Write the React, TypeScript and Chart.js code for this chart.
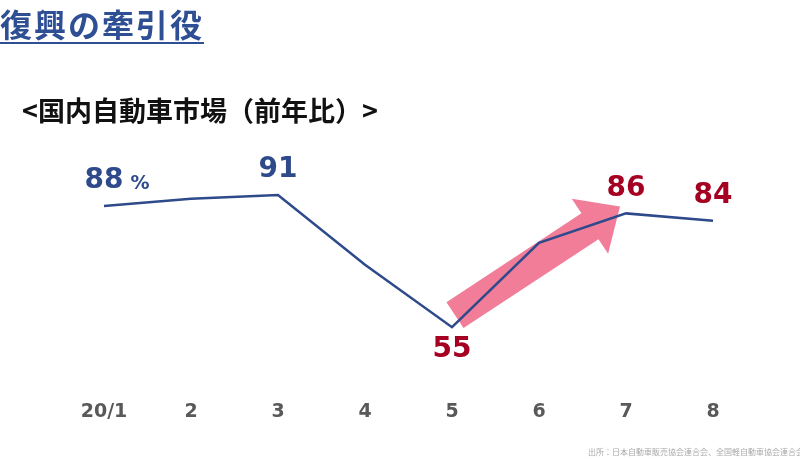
import React, { useEffect, useRef } from 'react';
import { Chart, registerables } from 'chart.js';

Chart.register(...registerables);

// data (year-over-year %, 2020)
const months = ['20/1', '2', '3', '4', '5', '6', '7', '8'];
const marketYoY = [88, 90, 91, 72, 55, 78, 86, 84];
const labelledIdx = [0, 2, 4, 6, 7];
const labelBelow = [4];
const labelColors = ['#2E4A8B', '#2E4A8B', '#2E4A8B', '#2E4A8B', '#A50021', '#A50021', '#A50021', '#A50021'];
const arrowFrom = 4;
const arrowTo = 6;

const blue = '#2E4A8B';
const pink = 'rgba(240, 118, 147, 0.95)';
const numFont = '"DejaVu Sans", "Noto Sans", sans-serif';

const arrowPlugin = {
  id: 'arrow',
  beforeDatasetsDraw(chart: any) {
    const pts = chart.getDatasetMeta(0).data;
    const a = pts[arrowFrom];
    const b = pts[arrowTo];
    const x0 = a.x + 3, y0 = a.y - 12;
    const x1 = b.x - 6, y1 = b.y - 7;
    const dx = x1 - x0, dy = y1 - y0;
    const len = Math.sqrt(dx * dx + dy * dy);
    const ux = dx / len, uy = dy / len;
    const px = -uy, py = ux;
    const shaft = 15.5, head = 33, headLen = 36;
    const bx = x1 - ux * headLen, by = y1 - uy * headLen;
    const ctx = chart.ctx;
    ctx.save();
    ctx.fillStyle = pink;
    ctx.beginPath();
    ctx.moveTo(x0 + px * shaft, y0 + py * shaft);
    ctx.lineTo(bx + px * shaft, by + py * shaft);
    ctx.lineTo(bx + px * head, by + py * head);
    ctx.lineTo(x1, y1);
    ctx.lineTo(bx - px * head, by - py * head);
    ctx.lineTo(bx - px * shaft, by - py * shaft);
    ctx.lineTo(x0 - px * shaft, y0 - py * shaft);
    ctx.closePath();
    ctx.fill();
    ctx.restore();
  },
};

const valueLabelPlugin = {
  id: 'valueLabels',
  afterDatasetsDraw(chart: any) {
    const pts = chart.getDatasetMeta(0).data;
    const ctx = chart.ctx;
    ctx.save();
    ctx.textAlign = 'center';
    ctx.textBaseline = 'middle';
    labelledIdx.forEach((i) => {
      const p = pts[i];
      const below = labelBelow.includes(i);
      const y = below ? p.y + 23 : p.y - 25;
      ctx.fillStyle = labelColors[i];
      ctx.font = `bold 28px ${numFont}`;
      const txt = String(marketYoY[i]);
      ctx.fillText(txt, p.x, y);
      if (i === 0) {
        const w = ctx.measureText(txt).width;
        ctx.font = `bold 19px ${numFont}`;
        ctx.textAlign = 'left';
        ctx.fillText('%', p.x + w / 2 + 7, y + 3);
        ctx.textAlign = 'center';
      }
    });
    ctx.restore();
  },
};

const App: React.FC = () => {
  const canvasRef = useRef<HTMLCanvasElement>(null);
  const chartRef = useRef<Chart | null>(null);

  useEffect(() => {
    document.body.style.margin = '0';
    if (!canvasRef.current) return;
    const ctx = canvasRef.current.getContext('2d');
    if (!ctx) return;

    if (chartRef.current) {
      chartRef.current.destroy();
      chartRef.current = null;
    }

    chartRef.current = new Chart(ctx, {
      type: 'line',
      data: {
        labels: months,
        datasets: [{
          data: marketYoY,
          borderColor: blue,
          borderWidth: 2.5,
          pointRadius: 0,
          tension: 0,
          fill: false,
        }],
      },
      options: {
        animation: false,
        responsive: false,
        layout: { padding: { left: 104, right: 87, top: 162, bottom: 22 } },
        plugins: {
          legend: { display: false },
          tooltip: { enabled: false },
        },
        scales: {
          y: { display: false, min: 40, max: 100 },
          x: {
            grid: { display: false, drawTicks: false },
            border: { display: false },
            ticks: {
              padding: 18,
              color: '#595959',
              font: { family: numFont, size: 19, weight: 'bold' },
            },
          },
        },
      },
      plugins: [arrowPlugin, valueLabelPlugin],
    });

    return () => {
      if (chartRef.current) {
        chartRef.current.destroy();
        chartRef.current = null;
      }
    };
  }, []);

  const jp = '"Noto Sans CJK JP", "Noto Sans", sans-serif';

  return (
    <div style={{ position: 'relative', width: 800, height: 463, overflow: 'hidden', background: '#fff' }}>
      <canvas ref={canvasRef} width={800} height={463} style={{ position: 'absolute', left: 0, top: 0 }} />
      <div style={{
        position: 'absolute', left: 0, top: 4, fontFamily: jp, fontWeight: 'bold', fontSize: 32,
        color: '#2F4F94', lineHeight: '38px', borderBottom: '2px solid #2F4F94', letterSpacing: 2,
      }}>
        復興の牽引役
      </div>
      <div style={{
        position: 'absolute', left: 22, top: 94, fontFamily: jp, fontWeight: 'bold', fontSize: 27,
        color: '#111', lineHeight: '32px',
      }}>
        {'<国内自動車市場（前年比）>'}
      </div>
      <div style={{
        position: 'absolute', left: 588, top: 446, fontFamily: jp, fontSize: 8, color: '#aaa',
        whiteSpace: 'nowrap',
      }}>
        出所：日本自動車販売協会連合会、全国軽自動車協会連合会
      </div>
    </div>
  );
};

export default App;
